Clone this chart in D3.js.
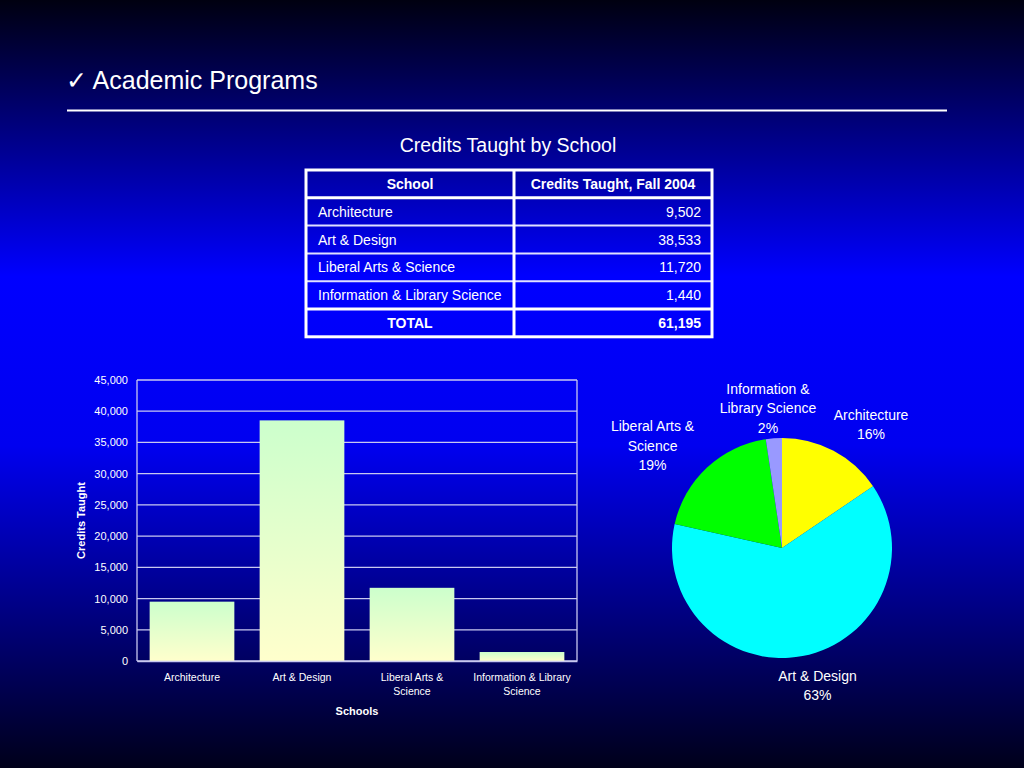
<!DOCTYPE html>
<html><head><meta charset="utf-8">
<script src="https://cdn.jsdelivr.net/npm/d3@7"></script>
<style>html,body{margin:0;padding:0;background:#000;}svg{display:block;font-family:"Liberation Sans",Arial,sans-serif;}</style>
</head><body>
<script>
const schools = ["Architecture","Art & Design","Liberal Arts & Science","Information & Library Science"];
const credits = [9502, 38533, 11720, 1440];
const totalLabel = "TOTAL";
const barLabels = [["Architecture"],["Art & Design"],["Liberal Arts &","Science"],["Information & Library","Science"]];
const pieLabels = [["Architecture"],["Art & Design"],["Liberal Arts &","Science"],["Information &","Library Science"]];
const pieColors = ["#ffff00","#00ffff","#00ff00","#9999ff"];
const yTicks = [0,5000,10000,15000,20000,25000,30000,35000,40000,45000];

const W=1024,H=768;
const svg=d3.select("body").append("svg").attr("width",W).attr("height",H);
const defs=svg.append("defs");
const bg=defs.append("linearGradient").attr("id","bg").attr("x1",0).attr("y1",0).attr("x2",0).attr("y2",1);
bg.append("stop").attr("offset",0).attr("stop-color","#000010");
bg.append("stop").attr("offset",0.36).attr("stop-color","#0000ff");
bg.append("stop").attr("offset",0.58).attr("stop-color","#0000f0");
bg.append("stop").attr("offset",1).attr("stop-color","#00001a");
const bar=defs.append("linearGradient").attr("id","bar").attr("x1",0).attr("y1",0).attr("x2",0).attr("y2",1);
bar.append("stop").attr("offset",0).attr("stop-color","#ccffcc");
bar.append("stop").attr("offset",1).attr("stop-color","#ffffcc");
svg.append("rect").attr("width",W).attr("height",H).attr("fill","url(#bg)");

// header
svg.append("text").attr("x",66).attr("y",89).attr("fill","#fff").attr("font-size",25).text("\u2713 Academic Programs");
svg.append("line").attr("x1",67).attr("x2",947).attr("y1",110.5).attr("y2",110.5).attr("stroke","#fff").attr("stroke-width",2);
svg.append("text").attr("x",508).attr("y",152).attr("text-anchor","middle").attr("fill","#fff").attr("font-size",19.5).text("Credits Taught by School");

// table
const fmt=d3.format(",");
const total=d3.sum(credits);
const rows=[["School","Credits Taught, Fall 2004",true,true]]
  .concat(schools.map((s,i)=>[s,fmt(credits[i]),false,false]))
  .concat([[totalLabel,fmt(total),true,false]]);
const tx=306, tw=406, c1=208, ty=170, rh=27.8;
const tg=svg.append("g");
rows.forEach((r,i)=>{
  const y=ty+i*rh;
  tg.append("text").attr("x",r[2]? tx+c1/2 : tx+12).attr("y",y+rh/2+5).attr("text-anchor",r[2]?"middle":"start")
    .attr("fill","#fff").attr("font-size",14).attr("font-weight",r[2]?"bold":"normal").text(r[0]);
  tg.append("text").attr("x",r[3]? tx+c1+(tw-c1)/2 : tx+tw-11).attr("y",y+rh/2+5).attr("text-anchor",r[3]?"middle":"end")
    .attr("fill","#fff").attr("font-size",14).attr("font-weight",r[2]?"bold":"normal").text(r[1]);
  if(i>0) tg.append("line").attr("x1",tx).attr("x2",tx+tw).attr("y1",y).attr("y2",y).attr("stroke",(i==1||i==rows.length-1)?"#fff":"#e0e0ff").attr("stroke-width",(i==1||i==rows.length-1)?3:2);
});
tg.append("line").attr("x1",tx+c1).attr("x2",tx+c1).attr("y1",ty).attr("y2",ty+rows.length*rh).attr("stroke","#fff").attr("stroke-width",3);
tg.append("rect").attr("x",tx).attr("y",ty).attr("width",tw).attr("height",rows.length*rh).attr("fill","none").attr("stroke","#fff").attr("stroke-width",3);

// bar chart
const px0=137, px1=577, py0=380, py1=661;
const x=d3.scaleBand().domain(schools).range([px0,px1]).paddingInner(0.23).paddingOuter(0.115);
const y=d3.scaleLinear().domain([0,45000]).range([py1,py0]);
const bg2=svg.append("g");
bg2.selectAll("line.g").data(yTicks).join("line").attr("x1",px0).attr("x2",px1).attr("y1",d=>y(d)).attr("y2",d=>y(d)).attr("stroke","#c8c8f0").attr("stroke-width",1.3);
bg2.append("line").attr("x1",px0).attr("x2",px0).attr("y1",py0).attr("y2",py1).attr("stroke","#c8c8f0").attr("stroke-width",1.3);
bg2.append("line").attr("x1",px1).attr("x2",px1).attr("y1",py0).attr("y2",py1).attr("stroke","#c8c8f0").attr("stroke-width",1.3);
bg2.selectAll("rect").data(credits).join("rect").attr("x",(d,i)=>x(schools[i])).attr("width",x.bandwidth())
  .attr("y",d=>y(d)).attr("height",d=>py1-y(d)).attr("fill","url(#bar)");
const yAxis=bg2.append("g").attr("transform",`translate(${px0},0)`).call(d3.axisLeft(y).tickValues(yTicks).tickFormat(fmt).tickSize(0).tickPadding(9));
yAxis.select(".domain").remove();
yAxis.selectAll("text").attr("fill","#fff").attr("font-size",11).attr("font-family","Liberation Sans, Arial, sans-serif");
const xAxis=bg2.append("g").attr("transform",`translate(0,${py1})`).call(d3.axisBottom(x).tickSize(0).tickFormat(""));
xAxis.select(".domain").attr("stroke","#c8c8f0").attr("stroke-width",1.3);
schools.forEach((s,i)=>{
  const t=bg2.append("text").attr("text-anchor","middle").attr("fill","#fff").attr("font-size",10.5);
  barLabels[i].forEach((l,j)=>t.append("tspan").attr("x",x(s)+x.bandwidth()/2).attr("y",py1+20+j*14).text(l));
});
bg2.append("text").attr("x",(px0+px1)/2).attr("y",715).attr("text-anchor","middle").attr("fill","#fff").attr("font-size",11).attr("font-weight","bold").text("Schools");
bg2.append("text").attr("transform",`translate(85,${(py0+py1)/2}) rotate(-90)`).attr("text-anchor","middle").attr("fill","#fff").attr("font-size",11).attr("font-weight","bold").text("Credits Taught");

// pie
const cx=782, cy=548, r=110;
const pie=d3.pie().sort(null).value(d=>d)(credits);
const arc=d3.arc().innerRadius(0).outerRadius(r);
const pg=svg.append("g").attr("transform",`translate(${cx},${cy})`);
pg.selectAll("path").data(pie).join("path").attr("d",arc).attr("fill",(d,i)=>pieColors[i]);
const pctFmt=d3.format(".0%");
pie.forEach((d,i)=>{
  const a=(d.startAngle+d.endAngle)/2;
  const lx=Math.sin(a)*190, ly=-Math.cos(a)*140;
  const lines=pieLabels[i].concat([pctFmt(d.value/total)]);
  const t=pg.append("text").attr("text-anchor","middle").attr("fill","#fff").attr("font-size",14);
  const n=lines.length, lh=19.5;
  lines.forEach((l,j)=>t.append("tspan").attr("x",lx).attr("y",ly+(j-(n-1)/2)*lh+5).text(l));
});
</script>
</body></html>
